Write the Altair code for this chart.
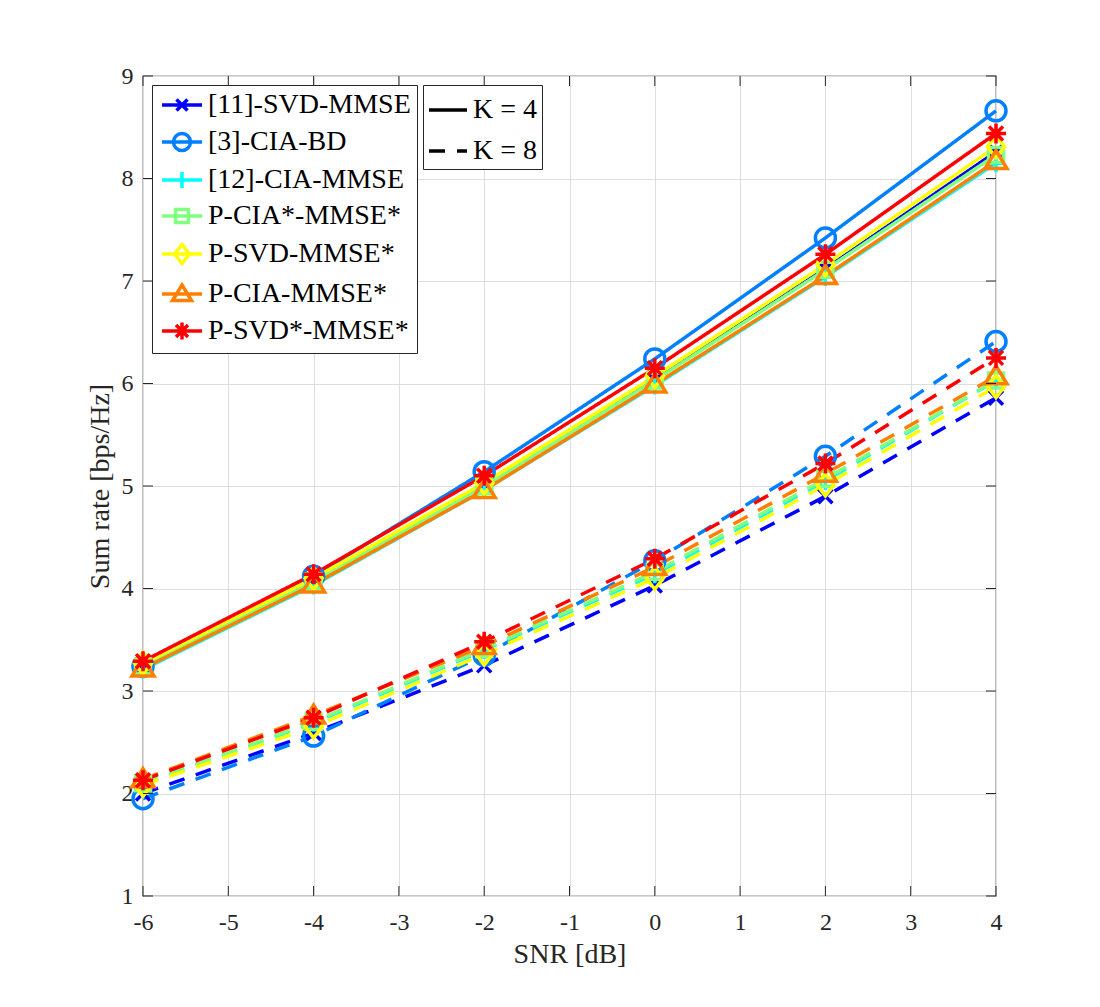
import altair as alt
import pandas as pd

# ---------------- data ----------------
snr = [-6, -4, -2, 0, 2, 4]
methods = ["[11]-SVD-MMSE", "[3]-CIA-BD", "[12]-CIA-MMSE", "P-CIA*-MMSE*",
           "P-SVD-MMSE*", "P-CIA-MMSE*", "P-SVD*-MMSE*"]
colors = ["#0000FF", "#0080FF", "#00FFFF", "#80FF80", "#FFFF00", "#FF8000", "#FF0000"]
k_labels = ["K = 4", "K = 8"]

# K = 4 (solid)
k4_svd_mmse = [3.25, 4.08, 5.01, 6.04, 7.12, 8.26]
k4_cia_bd = [3.24, 4.12, 5.14, 6.24, 7.42, 8.66]
k4_cia_mmse = [3.21, 4.03, 4.96, 5.98, 7.04, 8.15]
k4_pcia_star = [3.24, 4.07, 5.00, 6.03, 7.11, 8.23]
k4_psvd = [3.27, 4.10, 5.03, 6.07, 7.16, 8.31]
k4_pcia = [3.22, 4.04, 4.96, 5.99, 7.05, 8.17]
k4_psvd_star = [3.29, 4.14, 5.10, 6.15, 7.26, 8.44]

# K = 8 (dashed)
k8_svd_mmse = [2.00, 2.59, 3.25, 4.03, 4.90, 5.86]
k8_cia_bd = [1.95, 2.56, 3.35, 4.27, 5.29, 6.41]
k8_cia_mmse = [2.09, 2.69, 3.40, 4.14, 5.05, 6.03]
k8_pcia_star = [2.10, 2.70, 3.41, 4.16, 5.07, 6.03]
k8_psvd = [2.08, 2.65, 3.36, 4.10, 5.01, 5.97]
k8_pcia = [2.14, 2.76, 3.44, 4.21, 5.12, 6.07]
k8_psvd_star = [2.13, 2.74, 3.48, 4.29, 5.22, 6.25]

k4_series = [k4_svd_mmse, k4_cia_bd, k4_cia_mmse, k4_pcia_star, k4_psvd, k4_pcia, k4_psvd_star]
k8_series = [k8_svd_mmse, k8_cia_bd, k8_cia_mmse, k8_pcia_star, k8_psvd, k8_pcia, k8_psvd_star]

x_ticks = [-6, -5, -4, -3, -2, -1, 0, 1, 2, 3, 4]
y_ticks = [1, 2, 3, 4, 5, 6, 7, 8, 9]

# ---------------- build table ----------------
rows = []
order = 0
for m, s4, s8 in zip(methods, k4_series, k8_series):
    for kl, ser in ((k_labels[0], s4), (k_labels[1], s8)):
        for xv, yv in zip(snr, ser):
            rows.append({"snr": xv, "rate": yv, "method": m, "K": kl, "ord": order})
        order += 1
df = pd.DataFrame(rows)

# marker shapes (plot) and legend symbols (line + marker)
marker_paths = [
    "M-0.7,-0.7L0.7,0.7M-0.7,0.7L0.7,-0.7",
    "circle",
    "M-0.9,0H0.9M0,-0.9V0.9",
    "M-0.75,-0.75H0.75V0.75H-0.75Z",
    "M0,-1.1L0.85,0L0,1.1L-0.85,0Z",
    "M0,-1.05L1.1,0.75H-1.1Z",
    "M-1,0H1M0,-1V1M-0.7,-0.7L0.7,0.7M-0.7,0.7L0.7,-0.7",
]
legend_paths = [
    "M-1,0H3M0.45,-0.55L1.55,0.55M0.45,0.55L1.55,-0.55",
    "M-1,0H3M0.15,0A0.85,0.85 0 1,1 1.85,0A0.85,0.85 0 1,1 0.15,0",
    "M-1,0H3M1,-0.8V0.8",
    "M-1,0H3M0.35,-0.65H1.65V0.65H0.35Z",
    "M-1,0H3M1,-0.95L1.75,0L1,0.95L0.25,0Z",
    "M-1,0H3M1,-0.9L1.95,0.65H0.05Z",
    "M-1,0H3M1,-0.85V0.85M0.4,-0.6L1.6,0.6M0.4,0.6L1.6,-0.6",
]

FONT = "Liberation Serif"
AX = "#262626"
W, H = 853, 820
LW = 3.5

x_enc = alt.X("snr:Q", scale=alt.Scale(domain=[-6, 4], nice=False, zero=False),
              axis=alt.Axis(values=x_ticks, title="SNR [dB]", grid=True, ticks=False, tickSize=0,
                            domain=False, labelPadding=14, labelFontSize=24, labelFont=FONT,
                            labelExpr="'' + datum.value",
                            labelColor=AX, titleFont=FONT, titleFontSize=28, titleFontWeight="normal",
                            titleColor=AX, titleBaseline="alphabetic", titleY=66,
                            gridColor="#dedede", gridWidth=1, labelFlush=False))
y_enc = alt.Y("rate:Q", scale=alt.Scale(domain=[1, 9], nice=False, zero=False),
              axis=alt.Axis(values=y_ticks, title="Sum rate [bps/Hz]", grid=True, ticks=False, tickSize=0,
                            domain=False, labelPadding=10, labelFontSize=24, labelFont=FONT,
                            labelExpr="'' + datum.value",
                            labelColor=AX, titleFont=FONT, titleFontSize=28, titleFontWeight="normal",
                            titleColor=AX, titleAngle=270, titleBaseline="alphabetic",
                            titleX=-35, titleY=H / 2, titleAlign="center",
                            gridColor="#dedede", gridWidth=1, labelFlush=False))

method_legend = alt.Legend(title=None, orient="none", legendX=9, legendY=9,
                           fillColor="white", strokeColor=AX, padding=6,
                           labelFont=FONT, labelFontSize=28, labelColor="black",
                           labelOffset=22, rowPadding=7, symbolSize=400, symbolOpacity=1,
                           symbolStrokeWidth=LW, labelLimit=400, zindex=1)
color_enc = alt.Color("method:N", scale=alt.Scale(domain=methods, range=colors),
                      sort=methods, legend=method_legend)

base = alt.Chart(df)

lines = base.mark_line(strokeWidth=LW).encode(
    x=x_enc, y=y_enc, color=color_enc,
    strokeDash=alt.StrokeDash(
        "K:N", scale=alt.Scale(domain=k_labels, range=[[1, 0], [16, 12]]),
        legend=alt.Legend(title=None, orient="none", legendX=280, legendY=9,
                          fillColor="white", strokeColor=AX, padding=4,
                          labelFont=FONT, labelFontSize=28, labelColor="black",
                          labelOffset=4, rowPadding=6, symbolType="stroke",
                          symbolSize=1444, symbolStrokeWidth=LW, symbolStrokeColor="black",
                          labelLimit=400, zindex=1)),
    detail="ord:N",
)

# markers: one layer per method, each with its own marker shape
marker_layers = []
for m, p in zip(methods, marker_paths):
    marker_layers.append(
        base.transform_filter(alt.datum.method == m)
        .mark_point(shape=p, filled=False, size=400, strokeWidth=LW, opacity=1)
        .encode(x=x_enc, y=y_enc, color=color_enc)
    )

# invisible layer that only feeds the legend its line+marker symbols
legend_layer = base.mark_point(filled=False, opacity=0, size=400).encode(
    x=x_enc, y=y_enc, color=color_enc,
    shape=alt.Shape("method:N", scale=alt.Scale(domain=methods, range=legend_paths),
                    sort=methods, legend=method_legend),
)

# inward tick marks (box style)
xt = pd.DataFrame({"t": x_ticks})
yt = pd.DataFrame({"t": y_ticks})
TL = 10
tick_bottom = alt.Chart(xt).mark_rule(color=AX, strokeWidth=1).encode(
    x=alt.X("t:Q"), y=alt.value(H), y2=alt.value(H - TL))
tick_top = alt.Chart(xt).mark_rule(color=AX, strokeWidth=1).encode(
    x=alt.X("t:Q"), y=alt.value(0), y2=alt.value(TL))
tick_left = alt.Chart(yt).mark_rule(color=AX, strokeWidth=1).encode(
    y=alt.Y("t:Q"), x=alt.value(0), x2=alt.value(TL))
tick_right = alt.Chart(yt).mark_rule(color=AX, strokeWidth=1).encode(
    y=alt.Y("t:Q"), x=alt.value(W), x2=alt.value(W - TL))

chart = alt.layer(lines, *marker_layers, legend_layer,
                  tick_bottom, tick_top, tick_left, tick_right).properties(
    width=W, height=H,
    autosize=alt.AutoSizeParams(type="none"),
    padding={"left": 135, "top": 68, "right": 80, "bottom": 100},
    background="white",
).configure_view(stroke=AX, strokeWidth=1.2)

chart.save("out.html", embed_options={"renderer": "svg", "actions": False})
